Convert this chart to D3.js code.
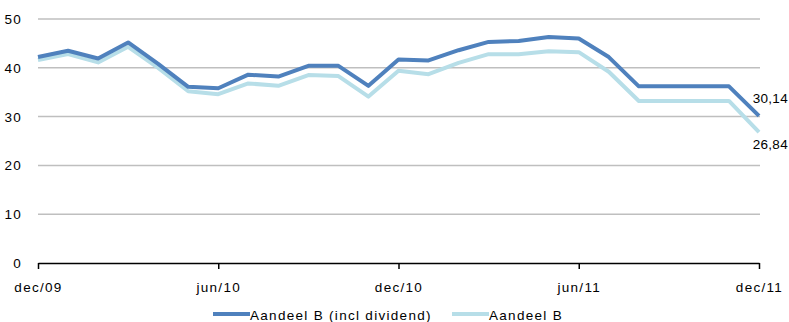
<!DOCTYPE html>
<html><head><meta charset="utf-8">
<script src="https://cdn.jsdelivr.net/npm/d3@7"></script>
<style>body{margin:0;background:#fff}svg{display:block}text{font-family:"Liberation Sans",Arial,sans-serif;fill:#000;letter-spacing:1.3px}</style>
</head><body><svg id="c" width="789" height="322"></svg>
<script>
const months = ["dec/09","jan/10","feb/10","mar/10","apr/10","mei/10","jun/10","jul/10","aug/10","sep/10","okt/10","nov/10","dec/10","jan/11","feb/11","mrt/11","apr/11","mei/11","jun/11","jul/11","aug/11","sep/11","okt/11","nov/11","dec/11"];
const inclDividend = [42.2,43.5,41.9,45.2,40.8,36.1,35.8,38.6,38.2,40.4,40.4,36.3,41.7,41.5,43.6,45.3,45.5,46.3,46.0,42.2,36.2,36.2,36.2,36.2,30.14];
const aandeelB = [41.6,42.8,41.1,44.3,40.0,35.2,34.6,36.8,36.3,38.5,38.3,34.1,39.4,38.7,41.0,42.8,42.8,43.4,43.2,39.2,33.2,33.2,33.2,33.2,26.84];
const xTickLabels = ["dec/09","jun/10","dec/10","jun/11","dec/11"];
const yTicks = [0,10,20,30,40,50];
const seriesNames = ["Aandeel B (incl dividend)","Aandeel B"];
const colors = ["#4F81BD","#B7DEE8"];

const svg = d3.select("#c");
const L=38, R=759, T=19, B=263;
const x = d3.scalePoint().domain(months).range([L,R]);
const y = d3.scaleLinear().domain([0,50]).range([B,T]);
const FS = 13.5;

// gridlines
svg.append("g").selectAll("line").data(yTicks.filter(d=>d>0)).join("line")
  .attr("x1",L).attr("x2",R+1).attr("y1",d=>y(d)).attr("y2",d=>y(d))
  .attr("stroke","#BFBFBF").attr("stroke-width",1.5);

// y labels
svg.append("g").selectAll("text").data(yTicks).join("text")
  .attr("x",22).attr("y",d=>y(d)+5).attr("text-anchor","end")
  .attr("font-size",FS).text(d=>d);

// x axis
const xa = d3.axisBottom(x).tickValues(xTickLabels).tickSize(6).tickSizeOuter(0).tickFormat(d=>d);
const gx = svg.append("g").attr("transform",`translate(0,${B})`).call(xa);
gx.select(".domain").attr("stroke","#000").attr("stroke-width",1.5);
gx.selectAll(".tick line").attr("stroke","#000").attr("stroke-width",1.5);
gx.selectAll(".tick text").attr("font-size",FS).attr("y",29).attr("dy",0)
  .attr("font-family","Liberation Sans, Arial, sans-serif").attr("fill","#000");

const line = d3.line().x((d,i)=>x(months[i])).y(d=>y(d));
[aandeelB, inclDividend].forEach((s,k)=>{
  svg.append("path").datum(s).attr("d",line).attr("fill","none")
    .attr("stroke",colors[1-k]).attr("stroke-width",4).attr("stroke-linejoin","round");
});

// end labels
const fmt = v => v.toFixed(2).replace(".",",");
svg.append("text").attr("x",788).attr("text-anchor","end").style("letter-spacing","0.3px")
  .attr("y",y(inclDividend[24])-13).attr("font-size",FS).text(fmt(inclDividend[24]));
svg.append("text").attr("x",788).attr("text-anchor","end").style("letter-spacing","0.3px")
  .attr("y",y(aandeelB[24])+17).attr("font-size",FS).text(fmt(aandeelB[24]));

// legend
const lg = [{x:213,tx:250},{x:452,tx:489}];
seriesNames.forEach((n,i)=>{
  svg.append("line").attr("x1",lg[i].x).attr("x2",lg[i].x+37).attr("y1",314).attr("y2",314)
    .attr("stroke",colors[i]).attr("stroke-width",4);
  svg.append("text").attr("x",lg[i].tx).attr("y",320).attr("font-size",FS).text(n);
});
</script></body></html>
